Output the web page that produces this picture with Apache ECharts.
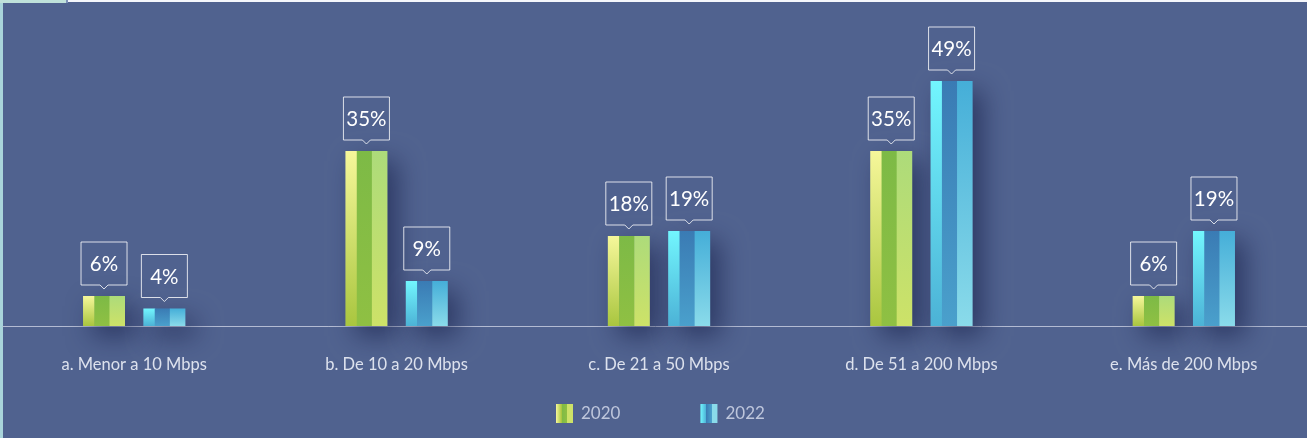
<!DOCTYPE html>
<html>
<head>
<meta charset="utf-8">
<script src="https://cdn.jsdelivr.net/npm/echarts@6/dist/echarts.min.js"></script>
<style>
  html, body { margin: 0; padding: 0; background: #ffffff; }
  #speedChart { width: 1307px; height: 438px; }
</style>
</head>
<body>
<div id="speedChart"></div>
<script>
  // datos
  const categories = ['a. Menor a 10 Mbps', 'b. De 10 a 20 Mbps', 'c. De 21 a 50 Mbps', 'd. De 51 a 200 Mbps', 'e. Más de 200 Mbps']
  const years = ['2020', '2022']
  const values2020 = [6, 35, 18, 35, 6]
  const values2022 = [3.5, 9, 19, 49, 19]

  // colores de las tres franjas de cada barra: [arriba, abajo]
  const stripes = {
    '2020': [['#f6f79a', '#a9c63f'], ['#7dba46', '#8fc043'], ['#addb7a', '#cde268']],
    '2022': [['#72f6fe', '#4cb2d6'], ['#3a7bb4', '#4aa0cc'], ['#45aed8', '#8adbea']]
  }

  function vGrad(c) {
    return new echarts.graphic.LinearGradient(0, 0, 0, 1, [
      { offset: 0, color: c[0] },
      { offset: 1, color: c[1] }
    ])
  }

  function legendColor(year) {
    const s = stripes[year]
    return new echarts.graphic.LinearGradient(0, 0, 1, 0, [
      { offset: 0, color: s[0][0] }, { offset: 0.33, color: s[0][1] },
      { offset: 0.33, color: s[1][0] }, { offset: 0.66, color: s[1][1] },
      { offset: 0.66, color: s[2][1] }, { offset: 1, color: s[2][1] }
    ])
  }

  function makeRender(year, side) {
    const s = stripes[year]
    return function (params, api) {
      const band = api.size([1, 0])[0]
      const base = api.coord([api.value(0), 0])
      const top = api.coord([api.value(0), api.value(1)])
      const bw = band * 0.16
      const cx = base[0] + side * band * 0.115
      const x0 = cx - bw / 2
      const h = base[1] - top[1]
      const w1 = bw * 0.27, w2 = bw * 0.36, w3 = bw - w1 - w2

      const tip = top[1] - 7
      const bb = tip - 4
      const bt = bb - 43
      const hw = 23
      const label = Math.round(api.value(1)) + '%'

      return {
        type: 'group',
        children: [
          {
            type: 'rect',
            shape: { x: x0, y: top[1], width: bw, height: h },
            style: {
              fill: '#50628f',
              shadowBlur: 26,
              shadowOffsetX: 10,
              shadowOffsetY: 10,
              shadowColor: 'rgba(20,28,70,0.6)'
            }
          },
          { type: 'rect', shape: { x: x0, y: top[1], width: w1 + 0.5, height: h }, style: { fill: vGrad(s[0]) } },
          { type: 'rect', shape: { x: x0 + w1, y: top[1], width: w2 + 0.5, height: h }, style: { fill: vGrad(s[1]) } },
          { type: 'rect', shape: { x: x0 + w1 + w2, y: top[1], width: w3, height: h }, style: { fill: vGrad(s[2]) } },
          {
            type: 'polygon',
            shape: {
              points: [
                [cx - hw, bt], [cx + hw, bt], [cx + hw, bb], [cx + 4, bb],
                [cx, tip], [cx - 4, bb], [cx - hw, bb]
              ]
            },
            style: { fill: 'none', stroke: 'rgba(255,255,255,0.8)', lineWidth: 1 }
          },
          {
            type: 'text',
            style: {
              x: cx,
              y: (bt + bb) / 2 + 1,
              text: label,
              fill: '#ffffff',
              font: '20.5px Lato, sans-serif',
              align: 'center',
              verticalAlign: 'middle'
            }
          }
        ]
      }
    }
  }

  let speedChart = echarts.init(document.getElementById('speedChart'))
  speedChart.setOption({
    backgroundColor: '#50628f',
    animation: false,
    graphic: [
      { type: 'rect', left: 0, top: 0, shape: { width: 3, height: 438 }, style: { fill: '#a9d4da' } },
      { type: 'rect', left: 0, top: 0, shape: { width: 66, height: 3 }, style: { fill: '#bfe1da' } },
      { type: 'rect', left: 66, top: 0, shape: { width: 2, height: 3 }, style: { fill: '#7c90b8' } },
      { type: 'rect', left: 68, top: 0, shape: { width: 1239, height: 2 }, style: { fill: '#f4f6fb' } }
    ],
    grid: { left: 3, top: 26, width: 1312, height: 300, outerBoundsMode: 'none' },
    legend: {
      data: years,
      top: 399,
      left: 551,
      icon: 'rect',
      itemWidth: 17,
      itemHeight: 19,
      itemGap: 80,
      textStyle: { color: '#bec6dc', fontSize: 17, fontFamily: 'Lato, sans-serif', padding: [0, 0, 0, 3] }
    },
    xAxis: {
      type: 'category',
      data: categories,
      axisLine: { lineStyle: { color: '#b3bbd3', width: 1 } },
      axisTick: { alignWithLabel: true, length: 6, lineStyle: { color: '#d5dbe8' } },
      axisLabel: { color: '#dde2ee', fontSize: 16.5, fontFamily: 'Lato, sans-serif', margin: 30 }
    },
    yAxis: { type: 'value', min: 0, max: 60, show: false },
    series: [
      {
        name: '2020',
        type: 'custom',
        itemStyle: { color: legendColor('2020') },
        encode: { x: 0, y: 1 },
        renderItem: makeRender('2020', -1),
        data: values2020.map((v, i) => [i, v])
      },
      {
        name: '2022',
        type: 'custom',
        itemStyle: { color: legendColor('2022') },
        encode: { x: 0, y: 1 },
        renderItem: makeRender('2022', 1),
        data: values2022.map((v, i) => [i, v])
      }
    ]
  })
</script>
</body>
</html>
